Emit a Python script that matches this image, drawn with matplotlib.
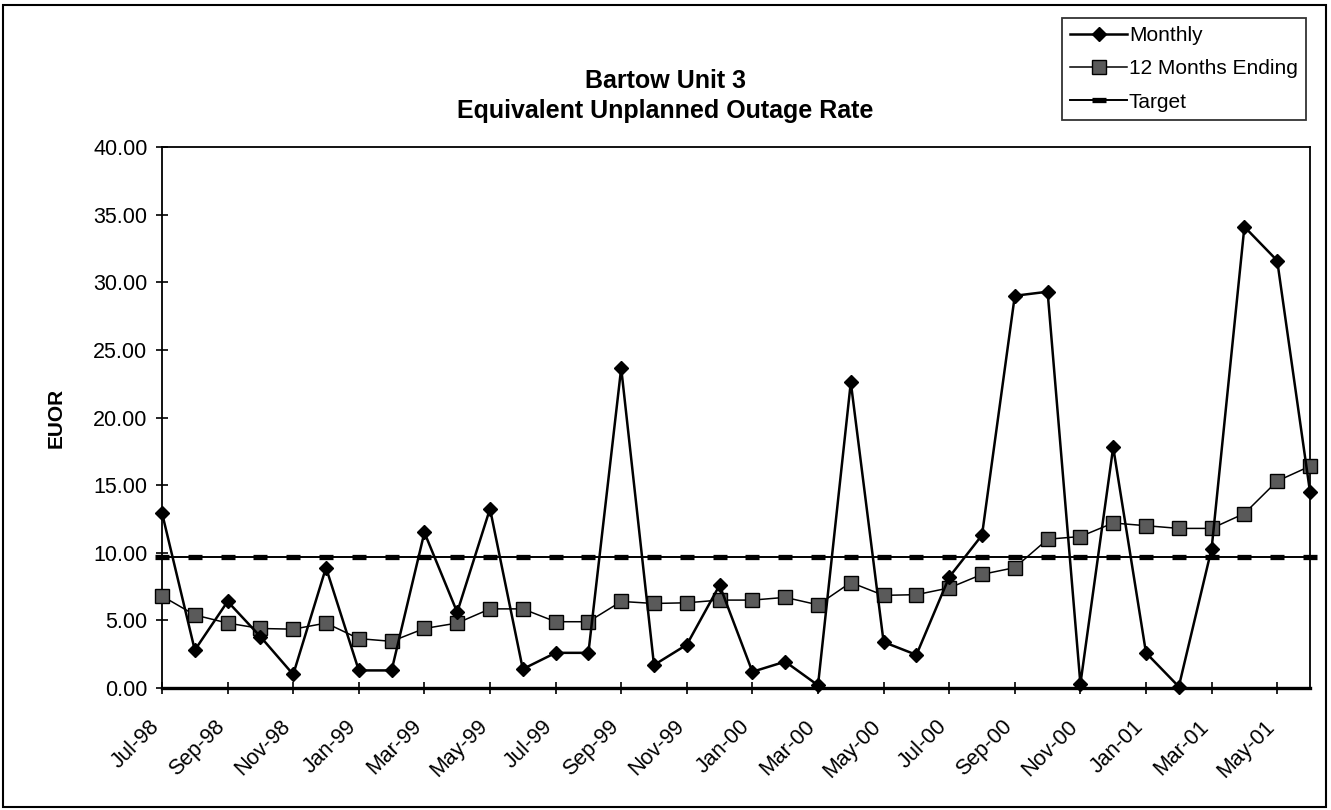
import matplotlib
matplotlib.use("Agg")
import matplotlib.pyplot as plt
from matplotlib.patches import Rectangle
from matplotlib.transforms import ScaledTranslation

plt.rcParams['font.family'] = ['Liberation Sans', 'DejaVu Sans']

months = ["Jul-98", "Aug-98", "Sep-98", "Oct-98", "Nov-98", "Dec-98",
          "Jan-99", "Feb-99", "Mar-99", "Apr-99", "May-99", "Jun-99",
          "Jul-99", "Aug-99", "Sep-99", "Oct-99", "Nov-99", "Dec-99",
          "Jan-00", "Feb-00", "Mar-00", "Apr-00", "May-00", "Jun-00",
          "Jul-00", "Aug-00", "Sep-00", "Oct-00", "Nov-00", "Dec-00",
          "Jan-01", "Feb-01", "Mar-01", "Apr-01", "May-01", "Jun-01"]

monthly = [12.95, 2.8, 6.4, 3.8, 1.0, 8.9, 1.3, 1.3, 11.5, 5.6, 13.25, 1.4,
           2.6, 2.6, 23.65, 1.7, 3.2, 7.6, 1.2, 1.95, 0.2, 22.6, 3.4, 2.45,
           8.2, 11.3, 29.0, 29.3, 0.3, 17.8, 2.6, 0.1, 10.3, 34.1, 31.6, 14.5]

twelve_month = [6.8, 5.4, 4.8, 4.4, 4.35, 4.8, 3.65, 3.45, 4.4, 4.8, 5.85, 5.85,
                4.9, 4.9, 6.4, 6.25, 6.3, 6.5, 6.5, 6.7, 6.15, 7.8, 6.85, 6.9,
                7.4, 8.4, 8.9, 11.0, 11.2, 12.2, 12.0, 11.8, 11.8, 12.9, 15.3, 16.4]

target = [9.7, 9.7, 9.7, 9.7, 9.7, 9.7, 9.7, 9.7, 9.7, 9.7, 9.7, 9.7,
          9.7, 9.7, 9.7, 9.7, 9.7, 9.7, 9.7, 9.7, 9.7, 9.7, 9.7, 9.7,
          9.7, 9.7, 9.7, 9.7, 9.7, 9.7, 9.7, 9.7, 9.7, 9.7, 9.7, 9.7]

x = list(range(len(months)))

fig = plt.figure(figsize=(13.31, 8.10), dpi=100)
ax = fig.add_axes([162/1331, 1-688/810, (1310-162)/1331, (688-147)/810])

# target drawn first, with a dash marker at every month
ax.plot(x, target, color="black", lw=1.4, marker="_", ms=9.5, mew=3.8,
        clip_on=False, label="Target", zorder=2)
ax.plot(x, monthly, color="black", lw=1.8, marker="D", ms=7.5,
        mfc="black", mec="black", clip_on=False, label="Monthly", zorder=4)
ax.plot(x, twelve_month, color="black", lw=1.1, marker="s", ms=9.5,
        mfc="#5a5a5a", mec="black", mew=1.0, clip_on=False,
        label="12 Months Ending", zorder=3)

ax.set_xlim(0, 35)
ax.set_ylim(0, 40)
ax.set_yticks(range(0, 41, 5))
ax.set_yticklabels(["%.2f" % v for v in range(0, 41, 5)], fontsize=15.5)
ax.set_xticks(x[::2])
ax.set_xticklabels(months[::2], fontsize=15.5, rotation=45, ha="right",
                   va="center", rotation_mode="anchor")
ax.tick_params(axis="both", direction="inout", length=9, width=1.2,
               color="black", pad=6)
ax.tick_params(axis="x", pad=21)
shift = ScaledTranslation(-6/100, 0, fig.dpi_scale_trans)
for lab in ax.get_xticklabels():
    lab.set_transform(lab.get_transform() + shift)

for side in ["left", "right", "top"]:
    ax.spines[side].set_linewidth(1.3)
ax.spines["bottom"].set_linewidth(2.4)

ax.set_ylabel("EUOR", fontsize=15, fontweight="bold")
ax.yaxis.set_label_coords((66-162)/1148, 0.5)

fig.text(0.5, 1-81/810, "Bartow Unit 3", ha="center", va="center",
         fontsize=18, fontweight="bold")
fig.text(0.5, 1-111/810, "Equivalent Unplanned Outage Rate", ha="center",
         va="center", fontsize=18, fontweight="bold")

handles, labels = ax.get_legend_handles_labels()
order = [1, 2, 0]
leg = fig.legend([handles[i] for i in order], [labels[i] for i in order],
                 loc="upper right", bbox_to_anchor=(1306/1331, 1-18/810),
                 fontsize=15, frameon=True, fancybox=False, shadow=False,
                 handlelength=2.7, handletextpad=0.1, labelspacing=0.68,
                 borderpad=0.4, borderaxespad=0)
leg.get_frame().set_edgecolor("black")
leg.get_frame().set_linewidth(1.3)

# outer chart border
fig.patches.append(Rectangle((3/1331, 3/810), 1323/1331, 802/810,
                             transform=fig.transFigure, fill=False,
                             edgecolor="black", linewidth=1.5))

fig.savefig("out.png", dpi=100)
